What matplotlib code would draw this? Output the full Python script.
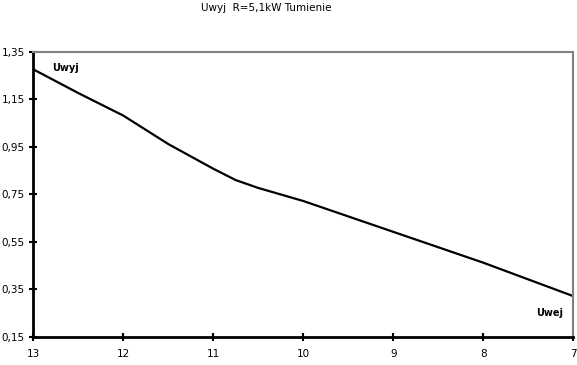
import matplotlib
matplotlib.use("Agg")
import matplotlib.pyplot as plt
from matplotlib.ticker import FixedLocator

plt.rcParams['font.family'] = ['DejaVu Sans']

title = "Uwyj  R=5,1kW Tumienie"
x_vals = [13, 12.5, 12, 11.5, 11, 10.75, 10.5, 10, 9, 8, 7]
y_vals = [1.277, 1.177, 1.082, 0.962, 0.858, 0.810, 0.777, 0.722, 0.592, 0.462, 0.321]
x_ticks = [13, 12, 11, 10, 9, 8, 7]
y_ticks = [0.15, 0.35, 0.55, 0.75, 0.95, 1.15, 1.35]
y_labels = ["0,15", "0,35", "0,55", "0,75", "0,95", "1,15", "1,35"]
label_out = "Uwyj"
label_in = "Uwej"

fig = plt.figure(figsize=(5.77, 3.65), dpi=100)
ax = fig.add_axes([0.0577, 0.0775, 0.9359, 0.78])

ax.plot(x_vals, y_vals, color='black', linewidth=1.6, solid_joinstyle='round')

ax.set_xlim(13, 7)
ax.set_ylim(0.15, 1.35)
ax.xaxis.set_major_locator(FixedLocator(x_ticks))
ax.set_xticklabels([str(t) for t in x_ticks])
ax.yaxis.set_major_locator(FixedLocator(y_ticks))
ax.set_yticklabels(y_labels)

ax.tick_params(axis='both', direction='inout', length=6, width=1.5,
               labelsize=7.5, color='black')
ax.tick_params(axis='x', pad=6)
ax.tick_params(axis='y', pad=3)

for s in ['left', 'bottom']:
    ax.spines[s].set_color('black')
    ax.spines[s].set_linewidth(2)
for s in ['top', 'right']:
    ax.spines[s].set_color('#808080')
    ax.spines[s].set_linewidth(1.5)

ax.text(12.79, 1.283, label_out, fontsize=7, fontweight='bold',
        ha='left', va='center')
ax.text(7.11, 0.248, label_in, fontsize=7, fontweight='bold',
        ha='right', va='center')

fig.text(0.461, 0.978, title, fontsize=7.5, ha='center', va='center')

fig.savefig("out.png", dpi=100)
